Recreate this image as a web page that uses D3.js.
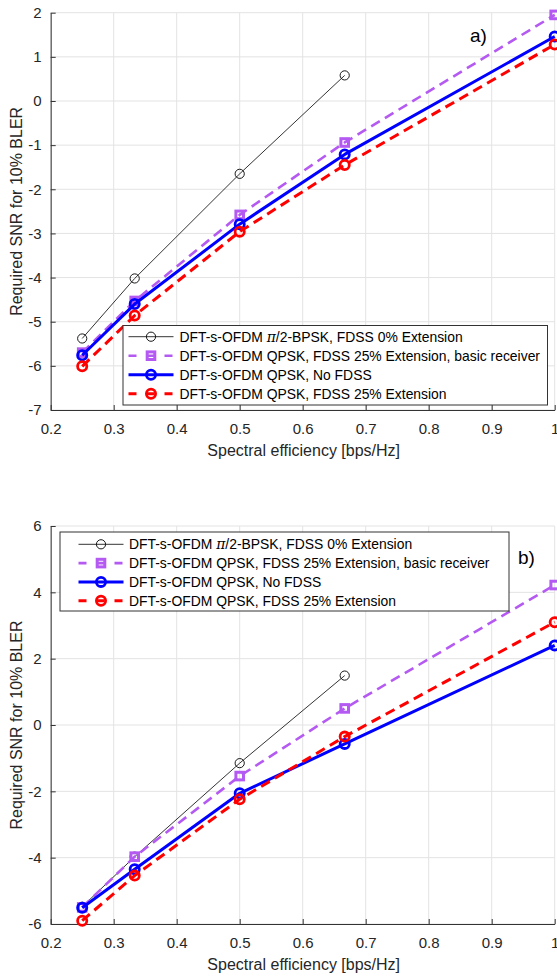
<!DOCTYPE html>
<html>
<head>
<meta charset="utf-8">
<script src="https://cdn.jsdelivr.net/npm/d3@7"></script>
<style>
  html, body { margin: 0; padding: 0; background: #fff; }
  svg { display: block; }
  text { font-family: "Liberation Sans", Arial, Helvetica, sans-serif; }
</style>
</head>
<body>
<svg id="chart" width="557" height="976"></svg>
<script>
// ---------- data ----------
const xValues = [0.25, 1 / 3, 0.5, 2 / 3, 1];
const xValuesBpsk = [0.25, 1 / 3, 0.5, 2 / 3];
const seriesNames = [
  "DFT-s-OFDM \u03C0/2-BPSK, FDSS 0% Extension",
  "DFT-s-OFDM QPSK, FDSS 25% Extension, basic receiver",
  "DFT-s-OFDM QPSK, No FDSS",
  "DFT-s-OFDM QPSK, FDSS 25% Extension"
];
// panel a)
const aBpsk   = [-5.38, -4.02, -1.65, 0.58];
const aBasic  = [-5.70, -4.53, -2.58, -0.94, 1.95];
const aNoFdss = [-5.76, -4.60, -2.79, -1.21, 1.46];
const aFdss   = [-6.01, -4.86, -2.96, -1.45, 1.28];
// panel b)
const bBpsk   = [-5.48, -3.97, -1.15, 1.49];
const bBasic  = [-5.50, -3.97, -1.54, 0.50, 4.22];
const bNoFdss = [-5.51, -4.35, -2.06, -0.57, 2.40];
const bFdss   = [-5.90, -4.54, -2.24, -0.35, 3.10];
// ticks
const xTicks = [0.2, 0.3, 0.4, 0.5, 0.6, 0.7, 0.8, 0.9, 1];
const xTickLabels = ["0.2", "0.3", "0.4", "0.5", "0.6", "0.7", "0.8", "0.9", "1"];
const aYTicks = [-7, -6, -5, -4, -3, -2, -1, 0, 1, 2];
const bYTicks = [-6, -4, -2, 0, 2, 4, 6];
const xLabel = "Spectral efficiency [bps/Hz]";
const yLabel = "Required SNR for 10% BLER";

// ---------- styles ----------
const styles = [
  { color: "#000000", width: 0.8, dash: null, legendDash: null, marker: "circle", mStroke: 0.9, r: 4.6 },
  { color: "#b45af2", width: 2.6, dash: "10,6", legendDash: "8,10", marker: "square", mStroke: 3, r: 4.6 },
  { color: "#0000ff", width: 3, dash: null, legendDash: null, marker: "circle", mStroke: 2.8, r: 4.6 },
  { color: "#ff0000", width: 3, dash: "10,6", legendDash: "8,10", marker: "circle", mStroke: 2.8, r: 4.6 }
];

const svg = d3.select("#chart");
const X0 = 50.7, X1 = 554.7;

function panel(cfg) {
  const x = d3.scaleLinear().domain([0.2, 1]).range([X0, X1]);
  const y = d3.scaleLinear().domain(cfg.yDomain).range([cfg.yBottom, cfg.yTop]);
  const g = svg.append("g");

  // grid
  g.append("g").selectAll("line").data(xTicks).join("line")
    .attr("x1", d => x(d)).attr("x2", d => x(d))
    .attr("y1", cfg.yTop).attr("y2", cfg.yBottom)
    .attr("stroke", "#e3e3e3").attr("stroke-width", 1);
  g.append("g").selectAll("line").data(cfg.yTicks).join("line")
    .attr("x1", X0).attr("x2", X1)
    .attr("y1", d => y(d)).attr("y2", d => y(d))
    .attr("stroke", "#e3e3e3").attr("stroke-width", 1);

  // axes
  const xAxis = d3.axisBottom(x).tickValues(xTicks)
    .tickFormat((d, i) => xTickLabels[i]).tickSizeInner(-5).tickSizeOuter(0).tickPadding(13);
  const gx = g.append("g").attr("transform", `translate(0,${cfg.yBottom})`).call(xAxis);
  const yAxis = d3.axisLeft(y).tickValues(cfg.yTicks).tickFormat(d3.format("d"))
    .tickSizeInner(-5).tickSizeOuter(0).tickPadding(9);
  const gy = g.append("g").attr("transform", `translate(${X0},0)`).call(yAxis);
  [gx, gy].forEach(a => {
    a.select(".domain").attr("stroke", "#333").attr("stroke-width", 1);
    a.selectAll(".tick line").attr("stroke", "#333").attr("stroke-width", 1);
    a.selectAll(".tick text").attr("fill", "#262626").attr("font-size", 15)
      .attr("font-family", '"Liberation Sans", Arial, sans-serif');
  });
  gy.selectAll(".tick text").text(d => d < 0 ? "-" + Math.abs(d) : String(d));

  // labels
  g.append("text").attr("x", (X0 + X1) / 2 + 1).attr("y", cfg.yBottom + 46)
    .attr("text-anchor", "middle").attr("font-size", 16).attr("fill", "#262626").text(xLabel);
  g.append("text")
    .attr("transform", `translate(22,${(cfg.yTop + cfg.yBottom) / 2}) rotate(-90)`)
    .attr("text-anchor", "middle").attr("font-size", 16).attr("fill", "#262626").text(yLabel);

  // series
  const series = [
    { xs: xValuesBpsk, ys: cfg.data[0] },
    { xs: xValues, ys: cfg.data[1] },
    { xs: xValues, ys: cfg.data[2] },
    { xs: xValues, ys: cfg.data[3] }
  ];
  const line = d3.line().x(d => x(d[0])).y(d => y(d[1]));
  series.forEach((s, i) => {
    const st = styles[i];
    const pts = s.xs.map((xv, j) => [xv, s.ys[j]]);
    g.append("path").datum(pts).attr("d", line)
      .attr("fill", "none").attr("stroke", st.color).attr("stroke-width", st.width)
      .attr("stroke-dasharray", st.dash).attr("stroke-linejoin", "round");
    drawMarkers(g, pts.map(p => [x(p[0]), y(p[1])]), st);
  });

  // panel letter
  g.append("text").attr("x", cfg.letterX).attr("y", cfg.letterY)
    .attr("font-size", 19).attr("fill", "#000").text(cfg.letter);

  // legend
  const L = cfg.legend;
  const lg = g.append("g");
  lg.append("rect").attr("x", L.x).attr("y", L.y).attr("width", L.w).attr("height", L.h)
    .attr("fill", "#fff").attr("stroke", "#333").attr("stroke-width", 1);
  seriesNames.forEach((name, i) => {
    const st = styles[i];
    const cy = L.y + L.row0 + i * L.dy;
    lg.append("line").attr("x1", L.lx).attr("x2", L.lx + 45).attr("y1", cy).attr("y2", cy)
      .attr("stroke", st.color).attr("stroke-width", st.width)
      .attr("stroke-dasharray", st.legendDash);
    drawMarkers(lg, [[L.lx + 22.5, cy]], st);
    const t = lg.append("text").attr("x", L.tx).attr("y", cy + 5)
      .attr("font-size", 13.9).attr("fill", "#000");
    if (i === 0) {
      t.append("tspan").text("DFT-s-OFDM ");
      t.append("tspan").attr("font-family", '"DejaVu Serif", "Liberation Serif", serif')
        .attr("font-style", "italic").text("\u03C0");
      t.append("tspan").text("/2-BPSK, FDSS 0% Extension");
    } else {
      t.text(name);
    }
  });
}

function drawMarkers(g, pts, st) {
  if (st.marker === "circle") {
    g.append("g").selectAll("circle").data(pts).join("circle")
      .attr("cx", d => d[0]).attr("cy", d => d[1]).attr("r", st.r)
      .attr("fill", "none").attr("stroke", st.color).attr("stroke-width", st.mStroke);
  } else {
    const s = 7.6;
    g.append("g").selectAll("rect").data(pts).join("rect")
      .attr("x", d => d[0] - s / 2).attr("y", d => d[1] - s / 2)
      .attr("width", s).attr("height", s)
      .attr("fill", "none").attr("stroke", st.color).attr("stroke-width", st.mStroke);
  }
}

panel({
  yDomain: [-7, 2], yTop: 12.7, yBottom: 410, yTicks: aYTicks,
  data: [aBpsk, aBasic, aNoFdss, aFdss],
  letter: "a)", letterX: 470, letterY: 41.5,
  legend: { x: 123, y: 325.5, w: 424.5, h: 79.5, row0: 11.2, dy: 19, lx: 128.5, tx: 179.5 }
});
panel({
  yDomain: [-6, 6], yTop: 526, yBottom: 924, yTicks: bYTicks,
  data: [bBpsk, bBasic, bNoFdss, bFdss],
  letter: "b)", letterX: 518, letterY: 564,
  legend: { x: 60, y: 532, w: 449, h: 79, row0: 12.3, dy: 18.8, lx: 78.5, tx: 129 }
});
</script>
</body>
</html>
